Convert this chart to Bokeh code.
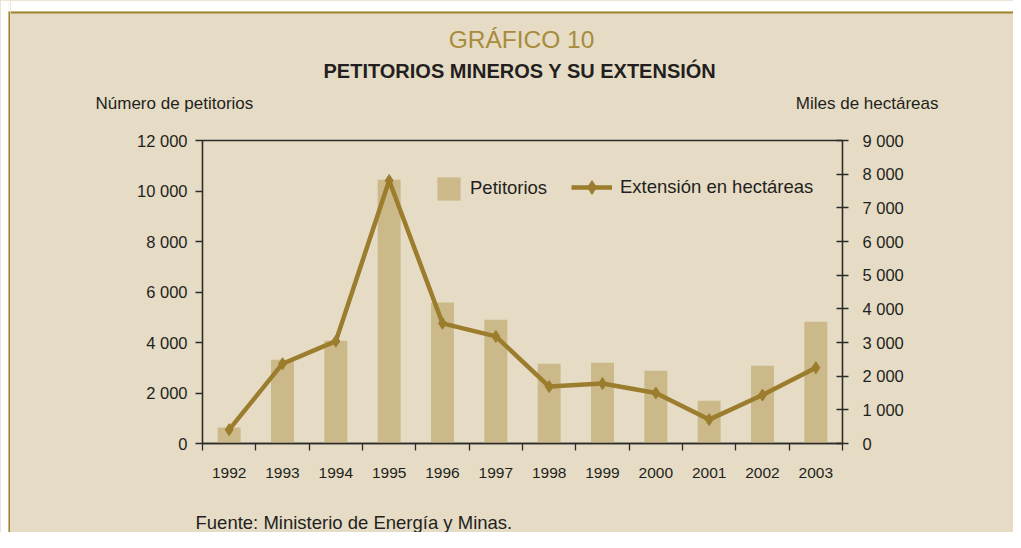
from bokeh.plotting import figure
from bokeh.layouts import row, column
from bokeh.models import Range1d, LinearAxis, FixedTicker, Legend, LegendItem
from bokeh.core.properties import value
from bokeh.embed import file_html
from bokeh.resources import INLINE

# ---- data ----
years = ["1992", "1993", "1994", "1995", "1996", "1997",
         "1998", "1999", "2000", "2001", "2002", "2003"]
petitorios = [630, 3320, 4070, 10450, 5580, 4900, 3160, 3200, 2880, 1690, 3080, 4820]
extension_miles_ha = [410, 2370, 3040, 7810, 3570, 3180, 1690, 1780, 1500, 710, 1440, 2250]

left_ticks = [0, 2000, 4000, 6000, 8000, 10000, 12000]
left_tick_labels = ["0", "2 000", "4 000", "6 000", "8 000", "10 000", "12 000"]
right_ticks = [0, 1000, 2000, 3000, 4000, 5000, 6000, 7000, 8000, 9000]
right_tick_labels = ["0", "1 000", "2 000", "3 000", "4 000", "5 000",
                     "6 000", "7 000", "8 000", "9 000"]

title_text = "GRÁFICO 10"
subtitle_text = "PETITORIOS MINEROS Y SU EXTENSIÓN"
left_title = "Número de petitorios"
right_title = "Miles de hectáreas"
source_text = "Fuente: Ministerio de Energía y Minas."
bar_label = "Petitorios"
line_label = "Extensión en hectáreas"

# ---- styles ----
BG = "#E6DCC5"
BAR = "#CBB98A"
GOLD = "#9B7D2D"
TITLE_GOLD = "#A88B3C"
BORDER = "#A0852F"
AX = "#2B2B2B"
TXT = "#231F20"
FONT = "Liberation Sans"

W = 1013
H = 532
STRIP = 10
CW = W - STRIP
HEAD_H = 120
MAIN_H = 370
FOOT_H = H - HEAD_H - MAIN_H


def blank(width, height, x0, x1, y0, y1):
    f = figure(width=width, height=height, output_backend="svg", toolbar_location=None,
               x_range=Range1d(x0, x1), y_range=Range1d(y1, y0),
               x_axis_location=None, y_axis_location=None, frame_align=False,
               min_border=0, min_border_left=0, min_border_right=0,
               min_border_top=0, min_border_bottom=0,
               background_fill_color=BG, border_fill_color=BG, outline_line_color=None)
    f.grid.visible = False
    return f


def txt(f, x, y, s, size, color=TXT, align="left", style="normal"):
    f.text(x=[x], y=[y], text=[s], text_font=value(FONT), text_font_size=value(size),
           text_font_style=value(style), text_color=color, text_align=align,
           text_baseline="middle")


# ---- left page border strip ----
strip = blank(STRIP, H, 0, STRIP, 0, H)
strip.quad(left=[0], right=[8], top=[0], bottom=[H], fill_color="white", line_color=None)
strip.quad(left=[8], right=[STRIP], top=[0], bottom=[11], fill_color="white", line_color=None)
strip.quad(left=[8], right=[STRIP], top=[11], bottom=[H], fill_color=BORDER, line_color=None)

# ---- header ----
head = blank(CW, HEAD_H, STRIP, W, 0, HEAD_H)
head.quad(left=[STRIP], right=[W], top=[0], bottom=[11], fill_color="white", line_color=None)
head.quad(left=[STRIP], right=[W], top=[11], bottom=[13], fill_color=BORDER, line_color=None)
txt(head, 521, 38.5, title_text, "24.5px", color=TITLE_GOLD, align="center")
txt(head, 519.5, 70.5, subtitle_text, "20px", align="center", style="bold")
txt(head, 95, 103, left_title, "17px")
txt(head, 938, 103, right_title, "17px", align="right")

# ---- main chart ----
idx = list(range(len(years)))

p = figure(width=CW, height=MAIN_H, output_backend="svg", toolbar_location=None,
           x_range=Range1d(-0.5, len(years) - 0.5), y_range=Range1d(0, 12000),
           frame_align=False,
           min_border_left=202 - STRIP, min_border_right=W - 842, min_border_top=20,
           min_border_bottom=MAIN_H - 20 - 303,
           background_fill_color=BG, border_fill_color=BG,
           outline_line_color=AX, outline_line_width=1.3)
p.grid.visible = False
p.extra_y_ranges = {"ha": Range1d(0, 9000)}

xa = p.xaxis[0]
xa.ticker = FixedTicker(ticks=idx, minor_ticks=[i - 0.5 for i in range(len(years) + 1)])
xa.major_label_overrides = {i: y for i, y in zip(idx, years)}
xa.major_tick_line_color = None
xa.major_tick_in = 0
xa.major_tick_out = 0
xa.minor_tick_line_color = AX
xa.minor_tick_line_width = 1.3
xa.minor_tick_in = 0
xa.minor_tick_out = 7
xa.axis_line_color = AX
xa.axis_line_width = 1.3
xa.major_label_standoff = 17
xa.major_label_text_font = FONT
xa.major_label_text_font_size = "15.5px"
xa.major_label_text_color = TXT

ya = p.yaxis[0]
ya.ticker = FixedTicker(ticks=left_ticks)
ya.major_label_overrides = {t: s for t, s in zip(left_ticks, left_tick_labels)}
ya.major_tick_in = 0
ya.major_tick_out = 7
ya.major_tick_line_color = AX
ya.major_tick_line_width = 1.3
ya.minor_tick_line_color = None
ya.axis_line_color = AX
ya.axis_line_width = 1.3
ya.major_label_standoff = 8
ya.major_label_text_font = FONT
ya.major_label_text_font_size = "16.5px"
ya.major_label_text_color = TXT

ra = LinearAxis(y_range_name="ha", ticker=FixedTicker(ticks=right_ticks),
                major_label_overrides={t: s for t, s in zip(right_ticks, right_tick_labels)},
                major_tick_in=6, major_tick_out=6, major_tick_line_color=AX,
                major_tick_line_width=1.3, minor_tick_line_color=None,
                axis_line_color=AX, axis_line_width=1.3, major_label_standoff=14,
                major_label_text_font=FONT, major_label_text_font_size="16.5px",
                major_label_text_color=TXT)
p.add_layout(ra, "right")

bars = p.vbar(x=idx, top=petitorios, width=0.43, fill_color=BAR, line_color=None)
line = p.line(x=idx, y=extension_miles_ha, y_range_name="ha",
              line_color=GOLD, line_width=4.5)
marks = p.scatter(x=idx, y=extension_miles_ha, y_range_name="ha", marker="diamond",
                  size=12, fill_color=GOLD, line_color=GOLD, line_width=1)

common = dict(orientation="horizontal", padding=0, margin=0, spacing=0,
              border_line_color=None, background_fill_alpha=0,
              label_text_font=FONT, label_text_font_size="18.5px",
              label_text_color=TXT)
leg1 = Legend(items=[LegendItem(label=bar_label, renderers=[bars])],
              location=(232, 240.5), glyph_width=29, glyph_height=29,
              label_standoff=7, **common)
leg2 = Legend(items=[LegendItem(label=line_label, renderers=[line, marks])],
              location=(369, 239), glyph_width=41, glyph_height=34,
              label_standoff=8, **common)
p.add_layout(leg1)
p.add_layout(leg2)

# ---- footer ----
foot = blank(CW, FOOT_H, STRIP, W, HEAD_H + MAIN_H, H)
txt(foot, 195, 521.5, source_text, "18.5px")

bgstyle = {"background-color": BG}
layout = row(strip, column(head, p, foot, spacing=0, styles=bgstyle),
             spacing=0, styles=bgstyle)
open("out.html", "w").write(file_html(layout, INLINE))
